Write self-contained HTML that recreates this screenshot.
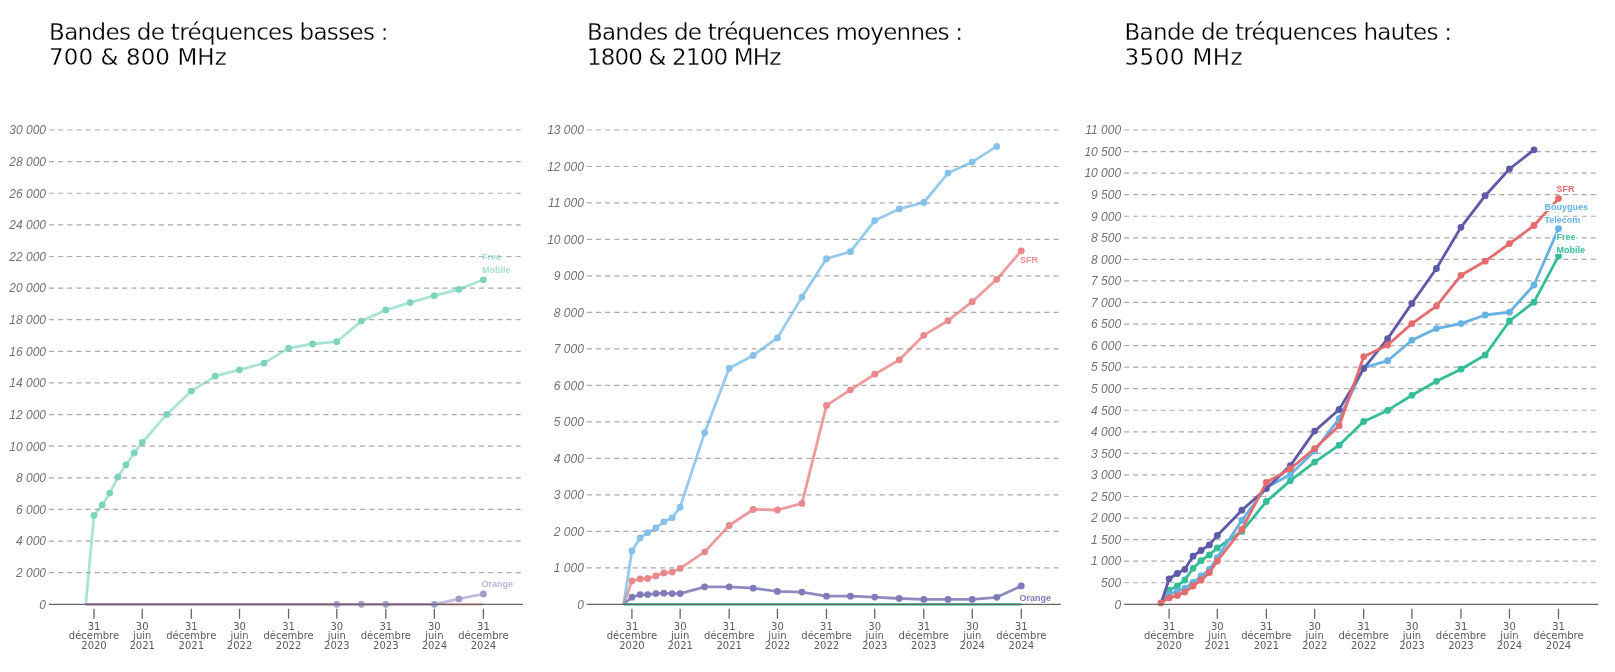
<!DOCTYPE html>
<html lang="fr"><head><meta charset="utf-8"><title>Déploiement 5G par bande de fréquences</title>
<style>
html,body{margin:0;padding:0;background:#fff;}
body{width:1615px;height:672px;overflow:hidden;}
svg{display:block;will-change:transform;}
.t{font-family:"DejaVu Sans","Liberation Sans",sans-serif;font-size:23px;fill:#000;stroke:#fff;stroke-width:0.28px;}
.yl{font-family:"Liberation Sans",sans-serif;font-style:italic;font-size:12px;fill:#727272;text-anchor:end;}
.xl{font-family:"DejaVu Sans","Liberation Sans",sans-serif;font-size:10px;fill:#5a5a5a;text-anchor:middle;}
.sl{font-family:"Liberation Sans",sans-serif;font-weight:bold;font-size:9px;stroke:#fff;stroke-width:2px;paint-order:stroke;stroke-linejoin:round;}
.g{stroke:#aaa;stroke-width:1.2;stroke-dasharray:5 4.15;}
.ax{stroke:#666;stroke-width:1.3;}
.tk{stroke:#666;stroke-width:1.3;}
</style></head>
<body>
<svg width="1615" height="672" viewBox="0 0 1615 672">
<text class="t" x="49.1" y="40.1" textLength="339.5" lengthAdjust="spacing">Bandes de tréquences basses :</text><text class="t" x="49.1" y="64.6" textLength="177.7" lengthAdjust="spacing">700 &amp; 800 MHz</text>
<text class="t" x="586.9" y="40.1" textLength="376.2" lengthAdjust="spacing">Bandes de tréquences moyennes :</text><text class="t" x="586.9" y="64.6" textLength="194.4" lengthAdjust="spacing">1800 &amp; 2100 MHz</text>
<text class="t" x="1124.5" y="40.1" textLength="327.6" lengthAdjust="spacing">Bande de tréquences hautes :</text><text class="t" x="1124.5" y="64.6" textLength="118.1" lengthAdjust="spacing">3500 MHz</text>
<line x1="49" x2="521" y1="130" y2="130" class="g"/>
<text x="46" y="134.3" class="yl">30 000</text>
<line x1="49" x2="521" y1="161.62" y2="161.62" class="g"/>
<text x="46" y="165.92" class="yl">28 000</text>
<line x1="49" x2="521" y1="193.24" y2="193.24" class="g"/>
<text x="46" y="197.54" class="yl">26 000</text>
<line x1="49" x2="521" y1="224.86" y2="224.86" class="g"/>
<text x="46" y="229.16" class="yl">24 000</text>
<line x1="49" x2="521" y1="256.48" y2="256.48" class="g"/>
<text x="46" y="260.78" class="yl">22 000</text>
<line x1="49" x2="521" y1="288.1" y2="288.1" class="g"/>
<text x="46" y="292.4" class="yl">20 000</text>
<line x1="49" x2="521" y1="319.72" y2="319.72" class="g"/>
<text x="46" y="324.02" class="yl">18 000</text>
<line x1="49" x2="521" y1="351.34" y2="351.34" class="g"/>
<text x="46" y="355.64" class="yl">16 000</text>
<line x1="49" x2="521" y1="382.96" y2="382.96" class="g"/>
<text x="46" y="387.26" class="yl">14 000</text>
<line x1="49" x2="521" y1="414.58" y2="414.58" class="g"/>
<text x="46" y="418.88" class="yl">12 000</text>
<line x1="49" x2="521" y1="446.2" y2="446.2" class="g"/>
<text x="46" y="450.5" class="yl">10 000</text>
<line x1="49" x2="521" y1="477.82" y2="477.82" class="g"/>
<text x="46" y="482.12" class="yl">8 000</text>
<line x1="49" x2="521" y1="509.44" y2="509.44" class="g"/>
<text x="46" y="513.74" class="yl">6 000</text>
<line x1="49" x2="521" y1="541.06" y2="541.06" class="g"/>
<text x="46" y="545.36" class="yl">4 000</text>
<line x1="49" x2="521" y1="572.68" y2="572.68" class="g"/>
<text x="46" y="576.98" class="yl">2 000</text>
<text x="46" y="608.6" class="yl">0</text>
<line x1="586.9" x2="1058.9" y1="130" y2="130" class="g"/>
<text x="583.9" y="134.3" class="yl">13 000</text>
<line x1="586.9" x2="1058.9" y1="166.48" y2="166.48" class="g"/>
<text x="583.9" y="170.78" class="yl">12 000</text>
<line x1="586.9" x2="1058.9" y1="202.97" y2="202.97" class="g"/>
<text x="583.9" y="207.27" class="yl">11 000</text>
<line x1="586.9" x2="1058.9" y1="239.45" y2="239.45" class="g"/>
<text x="583.9" y="243.75" class="yl">10 000</text>
<line x1="586.9" x2="1058.9" y1="275.94" y2="275.94" class="g"/>
<text x="583.9" y="280.24" class="yl">9 000</text>
<line x1="586.9" x2="1058.9" y1="312.42" y2="312.42" class="g"/>
<text x="583.9" y="316.72" class="yl">8 000</text>
<line x1="586.9" x2="1058.9" y1="348.91" y2="348.91" class="g"/>
<text x="583.9" y="353.21" class="yl">7 000</text>
<line x1="586.9" x2="1058.9" y1="385.39" y2="385.39" class="g"/>
<text x="583.9" y="389.69" class="yl">6 000</text>
<line x1="586.9" x2="1058.9" y1="421.88" y2="421.88" class="g"/>
<text x="583.9" y="426.18" class="yl">5 000</text>
<line x1="586.9" x2="1058.9" y1="458.36" y2="458.36" class="g"/>
<text x="583.9" y="462.66" class="yl">4 000</text>
<line x1="586.9" x2="1058.9" y1="494.85" y2="494.85" class="g"/>
<text x="583.9" y="499.15" class="yl">3 000</text>
<line x1="586.9" x2="1058.9" y1="531.33" y2="531.33" class="g"/>
<text x="583.9" y="535.63" class="yl">2 000</text>
<line x1="586.9" x2="1058.9" y1="567.82" y2="567.82" class="g"/>
<text x="583.9" y="572.12" class="yl">1 000</text>
<text x="583.9" y="608.6" class="yl">0</text>
<line x1="1124.1" x2="1596.1" y1="130" y2="130" class="g"/>
<text x="1121.1" y="134.3" class="yl">11 000</text>
<line x1="1124.1" x2="1596.1" y1="151.56" y2="151.56" class="g"/>
<text x="1121.1" y="155.86" class="yl">10 500</text>
<line x1="1124.1" x2="1596.1" y1="173.12" y2="173.12" class="g"/>
<text x="1121.1" y="177.42" class="yl">10 000</text>
<line x1="1124.1" x2="1596.1" y1="194.68" y2="194.68" class="g"/>
<text x="1121.1" y="198.98" class="yl">9 500</text>
<line x1="1124.1" x2="1596.1" y1="216.24" y2="216.24" class="g"/>
<text x="1121.1" y="220.54" class="yl">9 000</text>
<line x1="1124.1" x2="1596.1" y1="237.8" y2="237.8" class="g"/>
<text x="1121.1" y="242.1" class="yl">8 500</text>
<line x1="1124.1" x2="1596.1" y1="259.35" y2="259.35" class="g"/>
<text x="1121.1" y="263.65" class="yl">8 000</text>
<line x1="1124.1" x2="1596.1" y1="280.91" y2="280.91" class="g"/>
<text x="1121.1" y="285.21" class="yl">7 500</text>
<line x1="1124.1" x2="1596.1" y1="302.47" y2="302.47" class="g"/>
<text x="1121.1" y="306.77" class="yl">7 000</text>
<line x1="1124.1" x2="1596.1" y1="324.03" y2="324.03" class="g"/>
<text x="1121.1" y="328.33" class="yl">6 500</text>
<line x1="1124.1" x2="1596.1" y1="345.59" y2="345.59" class="g"/>
<text x="1121.1" y="349.89" class="yl">6 000</text>
<line x1="1124.1" x2="1596.1" y1="367.15" y2="367.15" class="g"/>
<text x="1121.1" y="371.45" class="yl">5 500</text>
<line x1="1124.1" x2="1596.1" y1="388.71" y2="388.71" class="g"/>
<text x="1121.1" y="393.01" class="yl">5 000</text>
<line x1="1124.1" x2="1596.1" y1="410.27" y2="410.27" class="g"/>
<text x="1121.1" y="414.57" class="yl">4 500</text>
<line x1="1124.1" x2="1596.1" y1="431.83" y2="431.83" class="g"/>
<text x="1121.1" y="436.13" class="yl">4 000</text>
<line x1="1124.1" x2="1596.1" y1="453.39" y2="453.39" class="g"/>
<text x="1121.1" y="457.69" class="yl">3 500</text>
<line x1="1124.1" x2="1596.1" y1="474.95" y2="474.95" class="g"/>
<text x="1121.1" y="479.25" class="yl">3 000</text>
<line x1="1124.1" x2="1596.1" y1="496.5" y2="496.5" class="g"/>
<text x="1121.1" y="500.8" class="yl">2 500</text>
<line x1="1124.1" x2="1596.1" y1="518.06" y2="518.06" class="g"/>
<text x="1121.1" y="522.36" class="yl">2 000</text>
<line x1="1124.1" x2="1596.1" y1="539.62" y2="539.62" class="g"/>
<text x="1121.1" y="543.92" class="yl">1 500</text>
<line x1="1124.1" x2="1596.1" y1="561.18" y2="561.18" class="g"/>
<text x="1121.1" y="565.48" class="yl">1 000</text>
<line x1="1124.1" x2="1596.1" y1="582.74" y2="582.74" class="g"/>
<text x="1121.1" y="587.04" class="yl">500</text>
<text x="1121.1" y="608.6" class="yl">0</text>
<path d="M85.74,604.3 L94,515.5 L102.26,505 L109.73,493.1 L117.99,477 L125.98,464.8 L134.25,452.9 L142.24,442.5 L166.76,414.4 L191.28,391.1 L215.27,376.2 L239.53,369.8 L264.05,363.1 L288.57,348.1 L312.55,344 L336.81,341.7 L361.33,321.1 L385.85,310 L410.1,302.6 L434.36,295.7 L458.88,289.3 L483.4,279.8" fill="none" stroke="#36bd98" stroke-width="2.8" stroke-linejoin="round" stroke-linecap="butt" opacity="0.42"/>
<g fill="#7cd4bc"><circle cx="94" cy="515.5" r="3.4"/><circle cx="102.26" cy="505" r="3.4"/><circle cx="109.73" cy="493.1" r="3.4"/><circle cx="117.99" cy="477" r="3.4"/><circle cx="125.98" cy="464.8" r="3.4"/><circle cx="134.25" cy="452.9" r="3.4"/><circle cx="142.24" cy="442.5" r="3.4"/><circle cx="166.76" cy="414.4" r="3.4"/><circle cx="191.28" cy="391.1" r="3.4"/><circle cx="215.27" cy="376.2" r="3.4"/><circle cx="239.53" cy="369.8" r="3.4"/><circle cx="264.05" cy="363.1" r="3.4"/><circle cx="288.57" cy="348.1" r="3.4"/><circle cx="312.55" cy="344" r="3.4"/><circle cx="336.81" cy="341.7" r="3.4"/><circle cx="361.33" cy="321.1" r="3.4"/><circle cx="385.85" cy="310" r="3.4"/><circle cx="410.1" cy="302.6" r="3.4"/><circle cx="434.36" cy="295.7" r="3.4"/><circle cx="458.88" cy="289.3" r="3.4"/><circle cx="483.4" cy="279.8" r="3.4"/></g>
<path d="M85.74,604.3 L94,604.3 L102.26,604.3 L109.73,604.3 L117.99,604.3 L125.98,604.3 L134.25,604.3 L142.24,604.3 L166.76,604.3 L191.28,604.3 L215.27,604.3 L239.53,604.3 L264.05,604.3 L288.57,604.3 L312.55,604.3 L336.81,604.3 L361.33,604.3 L385.85,604.3 L410.1,604.3 L434.36,604.3 L458.88,604.3 L483.4,604.3" fill="none" stroke="#e46c6e" stroke-width="2.8" stroke-linejoin="round" stroke-linecap="butt" opacity="0.4"/>
<path d="M85.74,604.3 L94,604.3 L102.26,604.3 L109.73,604.3 L117.99,604.3 L125.98,604.3 L134.25,604.3 L142.24,604.3 L166.76,604.3 L191.28,604.3 L215.27,604.3 L239.53,604.3 L264.05,604.3 L288.57,604.3 L312.55,604.3 L336.81,604.3 L361.33,604.3 L385.85,604.3 L410.1,604.3 L434.36,604.3 L458.88,598.9 L483.4,594" fill="none" stroke="#5f5aa7" stroke-width="2.8" stroke-linejoin="round" stroke-linecap="butt" opacity="0.4"/>
<g fill="#9f9cca"><circle cx="336.81" cy="604.3" r="3.4"/><circle cx="361.33" cy="604.3" r="3.4"/><circle cx="385.85" cy="604.3" r="3.4"/><circle cx="434.36" cy="604.3" r="3.4"/><circle cx="458.88" cy="598.9" r="3.4"/><circle cx="483.4" cy="594" r="3.4"/></g>
<path d="M623.64,604.3 L631.9,604.3 L640.16,604.3 L647.63,604.3 L655.89,604.3 L663.88,604.3 L672.15,604.3 L680.14,604.3 L704.66,604.3 L729.18,604.3 L753.17,604.3 L777.43,604.3 L801.95,604.3 L826.47,604.3 L850.45,604.3 L874.71,604.3 L899.23,604.3 L923.75,604.3 L948,604.3 L972.26,604.3 L996.78,604.3 L1021.3,604.3" fill="none" stroke="#36bd98" stroke-width="2.8" stroke-linejoin="round" stroke-linecap="butt" opacity="0.8"/>
<path d="M623.64,604.3 L631.9,597.2 L640.16,594.6 L647.63,594.6 L655.89,593.6 L663.88,593.2 L672.15,593.6 L680.14,593.6 L704.66,586.8 L729.18,586.8 L753.17,588.2 L777.43,591.4 L801.95,592.1 L826.47,596.2 L850.45,596.2 L874.71,597.1 L899.23,598.5 L923.75,599.4 L948,599.4 L972.26,599.4 L996.78,597.3 L1021.3,585.9" fill="none" stroke="#5f5aa7" stroke-width="2.8" stroke-linejoin="round" stroke-linecap="butt" opacity="0.7"/>
<g fill="#7f7bb9"><circle cx="631.9" cy="597.2" r="3.4"/><circle cx="640.16" cy="594.6" r="3.4"/><circle cx="647.63" cy="594.6" r="3.4"/><circle cx="655.89" cy="593.6" r="3.4"/><circle cx="663.88" cy="593.2" r="3.4"/><circle cx="672.15" cy="593.6" r="3.4"/><circle cx="680.14" cy="593.6" r="3.4"/><circle cx="704.66" cy="586.8" r="3.4"/><circle cx="729.18" cy="586.8" r="3.4"/><circle cx="753.17" cy="588.2" r="3.4"/><circle cx="777.43" cy="591.4" r="3.4"/><circle cx="801.95" cy="592.1" r="3.4"/><circle cx="826.47" cy="596.2" r="3.4"/><circle cx="850.45" cy="596.2" r="3.4"/><circle cx="874.71" cy="597.1" r="3.4"/><circle cx="899.23" cy="598.5" r="3.4"/><circle cx="923.75" cy="599.4" r="3.4"/><circle cx="948" cy="599.4" r="3.4"/><circle cx="972.26" cy="599.4" r="3.4"/><circle cx="996.78" cy="597.3" r="3.4"/><circle cx="1021.3" cy="585.9" r="3.4"/></g>
<path d="M623.64,604.3 L631.9,580.9 L640.16,578.9 L647.63,578.5 L655.89,575.9 L663.88,572.9 L672.15,572.1 L680.14,568.4 L704.66,551.9 L729.18,525.5 L753.17,509.5 L777.43,510 L801.95,503.4 L826.47,405.4 L850.45,389.8 L874.71,374.2 L899.23,359.9 L923.75,335.3 L948,320.7 L972.26,301.7 L996.78,279.3 L1021.3,250.8" fill="none" stroke="#e46c6e" stroke-width="2.8" stroke-linejoin="round" stroke-linecap="butt" opacity="0.68"/>
<g fill="#e9898b"><circle cx="631.9" cy="580.9" r="3.4"/><circle cx="640.16" cy="578.9" r="3.4"/><circle cx="647.63" cy="578.5" r="3.4"/><circle cx="655.89" cy="575.9" r="3.4"/><circle cx="663.88" cy="572.9" r="3.4"/><circle cx="672.15" cy="572.1" r="3.4"/><circle cx="680.14" cy="568.4" r="3.4"/><circle cx="704.66" cy="551.9" r="3.4"/><circle cx="729.18" cy="525.5" r="3.4"/><circle cx="753.17" cy="509.5" r="3.4"/><circle cx="777.43" cy="510" r="3.4"/><circle cx="801.95" cy="503.4" r="3.4"/><circle cx="826.47" cy="405.4" r="3.4"/><circle cx="850.45" cy="389.8" r="3.4"/><circle cx="874.71" cy="374.2" r="3.4"/><circle cx="899.23" cy="359.9" r="3.4"/><circle cx="923.75" cy="335.3" r="3.4"/><circle cx="948" cy="320.7" r="3.4"/><circle cx="972.26" cy="301.7" r="3.4"/><circle cx="996.78" cy="279.3" r="3.4"/><circle cx="1021.3" cy="250.8" r="3.4"/></g>
<path d="M623.64,604.3 L631.9,551 L640.16,537.9 L647.63,532.7 L655.89,528 L663.88,521.8 L672.15,517.8 L680.14,507.1 L704.66,432.7 L729.18,368.3 L753.17,355.4 L777.43,337.9 L801.95,297.1 L826.47,258.75 L850.45,251.7 L874.71,220.6 L899.23,208.9 L923.75,202.5 L948,173.1 L972.26,161.9 L996.78,146.4" fill="none" stroke="#66b2e2" stroke-width="2.8" stroke-linejoin="round" stroke-linecap="butt" opacity="0.68"/>
<g fill="#85c1e8"><circle cx="631.9" cy="551" r="3.4"/><circle cx="640.16" cy="537.9" r="3.4"/><circle cx="647.63" cy="532.7" r="3.4"/><circle cx="655.89" cy="528" r="3.4"/><circle cx="663.88" cy="521.8" r="3.4"/><circle cx="672.15" cy="517.8" r="3.4"/><circle cx="680.14" cy="507.1" r="3.4"/><circle cx="704.66" cy="432.7" r="3.4"/><circle cx="729.18" cy="368.3" r="3.4"/><circle cx="753.17" cy="355.4" r="3.4"/><circle cx="777.43" cy="337.9" r="3.4"/><circle cx="801.95" cy="297.1" r="3.4"/><circle cx="826.47" cy="258.75" r="3.4"/><circle cx="850.45" cy="251.7" r="3.4"/><circle cx="874.71" cy="220.6" r="3.4"/><circle cx="899.23" cy="208.9" r="3.4"/><circle cx="923.75" cy="202.5" r="3.4"/><circle cx="948" cy="173.1" r="3.4"/><circle cx="972.26" cy="161.9" r="3.4"/><circle cx="996.78" cy="146.4" r="3.4"/></g>
<path d="M1160.84,604.3 L1169.1,590.1 L1177.36,586 L1184.83,580 L1193.09,568.3 L1201.08,560.7 L1209.35,555 L1217.34,548 L1241.86,531.4 L1266.38,501.5 L1290.37,480.6 L1314.63,462.1 L1339.15,445.2 L1363.67,421.4 L1387.65,410.4 L1411.91,395.3 L1436.43,381.3 L1460.95,369.2 L1485.2,355 L1509.46,321 L1533.98,302.2 L1558.5,256.1" fill="none" stroke="#36bd98" stroke-width="2.8" stroke-linejoin="round" stroke-linecap="butt" opacity="1"/>
<g fill="#36bd98"><circle cx="1169.1" cy="590.1" r="3.4"/><circle cx="1177.36" cy="586" r="3.4"/><circle cx="1184.83" cy="580" r="3.4"/><circle cx="1193.09" cy="568.3" r="3.4"/><circle cx="1201.08" cy="560.7" r="3.4"/><circle cx="1209.35" cy="555" r="3.4"/><circle cx="1217.34" cy="548" r="3.4"/><circle cx="1241.86" cy="531.4" r="3.4"/><circle cx="1266.38" cy="501.5" r="3.4"/><circle cx="1290.37" cy="480.6" r="3.4"/><circle cx="1314.63" cy="462.1" r="3.4"/><circle cx="1339.15" cy="445.2" r="3.4"/><circle cx="1363.67" cy="421.4" r="3.4"/><circle cx="1387.65" cy="410.4" r="3.4"/><circle cx="1411.91" cy="395.3" r="3.4"/><circle cx="1436.43" cy="381.3" r="3.4"/><circle cx="1460.95" cy="369.2" r="3.4"/><circle cx="1485.2" cy="355" r="3.4"/><circle cx="1509.46" cy="321" r="3.4"/><circle cx="1533.98" cy="302.2" r="3.4"/><circle cx="1558.5" cy="256.1" r="3.4"/></g>
<path d="M1160.84,604.3 L1169.1,594.5 L1177.36,591 L1184.83,588.4 L1193.09,582.5 L1201.08,576 L1209.35,569.5 L1217.34,557.6 L1241.86,520.3 L1266.38,487.5 L1290.37,474.6 L1314.63,450.9 L1339.15,418.6 L1363.67,367.9 L1387.65,360.7 L1411.91,340.2 L1436.43,328.6 L1460.95,323.6 L1485.2,315 L1509.46,312.2 L1533.98,285 L1558.5,228.6" fill="none" stroke="#66b2e2" stroke-width="2.8" stroke-linejoin="round" stroke-linecap="butt" opacity="1"/>
<g fill="#66b2e2"><circle cx="1169.1" cy="594.5" r="3.4"/><circle cx="1177.36" cy="591" r="3.4"/><circle cx="1184.83" cy="588.4" r="3.4"/><circle cx="1193.09" cy="582.5" r="3.4"/><circle cx="1201.08" cy="576" r="3.4"/><circle cx="1209.35" cy="569.5" r="3.4"/><circle cx="1217.34" cy="557.6" r="3.4"/><circle cx="1241.86" cy="520.3" r="3.4"/><circle cx="1266.38" cy="487.5" r="3.4"/><circle cx="1290.37" cy="474.6" r="3.4"/><circle cx="1314.63" cy="450.9" r="3.4"/><circle cx="1339.15" cy="418.6" r="3.4"/><circle cx="1363.67" cy="367.9" r="3.4"/><circle cx="1387.65" cy="360.7" r="3.4"/><circle cx="1411.91" cy="340.2" r="3.4"/><circle cx="1436.43" cy="328.6" r="3.4"/><circle cx="1460.95" cy="323.6" r="3.4"/><circle cx="1485.2" cy="315" r="3.4"/><circle cx="1509.46" cy="312.2" r="3.4"/><circle cx="1533.98" cy="285" r="3.4"/><circle cx="1558.5" cy="228.6" r="3.4"/></g>
<path d="M1160.84,604.3 L1169.1,578.8 L1177.36,573.5 L1184.83,569.3 L1193.09,556.2 L1201.08,550.5 L1209.35,544.9 L1217.34,535.4 L1241.86,510.2 L1266.38,488.5 L1290.37,465.6 L1314.63,431.1 L1339.15,409.5 L1363.67,368.6 L1387.65,338.6 L1411.91,303.4 L1436.43,268.5 L1460.95,227.3 L1485.2,195.7 L1509.46,169 L1533.98,149.8" fill="none" stroke="#5f5aa7" stroke-width="2.8" stroke-linejoin="round" stroke-linecap="butt" opacity="1"/>
<g fill="#5f5aa7"><circle cx="1169.1" cy="578.8" r="3.4"/><circle cx="1177.36" cy="573.5" r="3.4"/><circle cx="1184.83" cy="569.3" r="3.4"/><circle cx="1193.09" cy="556.2" r="3.4"/><circle cx="1201.08" cy="550.5" r="3.4"/><circle cx="1209.35" cy="544.9" r="3.4"/><circle cx="1217.34" cy="535.4" r="3.4"/><circle cx="1241.86" cy="510.2" r="3.4"/><circle cx="1266.38" cy="488.5" r="3.4"/><circle cx="1290.37" cy="465.6" r="3.4"/><circle cx="1314.63" cy="431.1" r="3.4"/><circle cx="1339.15" cy="409.5" r="3.4"/><circle cx="1363.67" cy="368.6" r="3.4"/><circle cx="1387.65" cy="338.6" r="3.4"/><circle cx="1411.91" cy="303.4" r="3.4"/><circle cx="1436.43" cy="268.5" r="3.4"/><circle cx="1460.95" cy="227.3" r="3.4"/><circle cx="1485.2" cy="195.7" r="3.4"/><circle cx="1509.46" cy="169" r="3.4"/><circle cx="1533.98" cy="149.8" r="3.4"/></g>
<path d="M1160.84,602.9 L1169.1,597.9 L1177.36,595.6 L1184.83,592.1 L1193.09,586 L1201.08,580 L1209.35,572.6 L1217.34,561 L1241.86,529.4 L1266.38,482.3 L1290.37,468.75 L1314.63,448.6 L1339.15,425.7 L1363.67,356.7 L1387.65,345 L1411.91,323.6 L1436.43,306.1 L1460.95,275.3 L1485.2,261.2 L1509.46,243.6 L1533.98,225.5 L1558.5,198.6" fill="none" stroke="#e46c6e" stroke-width="2.8" stroke-linejoin="round" stroke-linecap="butt" opacity="1"/>
<g fill="#e46c6e"><circle cx="1160.84" cy="602.9" r="3.4"/><circle cx="1169.1" cy="597.9" r="3.4"/><circle cx="1177.36" cy="595.6" r="3.4"/><circle cx="1184.83" cy="592.1" r="3.4"/><circle cx="1193.09" cy="586" r="3.4"/><circle cx="1201.08" cy="580" r="3.4"/><circle cx="1209.35" cy="572.6" r="3.4"/><circle cx="1217.34" cy="561" r="3.4"/><circle cx="1241.86" cy="529.4" r="3.4"/><circle cx="1266.38" cy="482.3" r="3.4"/><circle cx="1290.37" cy="468.75" r="3.4"/><circle cx="1314.63" cy="448.6" r="3.4"/><circle cx="1339.15" cy="425.7" r="3.4"/><circle cx="1363.67" cy="356.7" r="3.4"/><circle cx="1387.65" cy="345" r="3.4"/><circle cx="1411.91" cy="323.6" r="3.4"/><circle cx="1436.43" cy="306.1" r="3.4"/><circle cx="1460.95" cy="275.3" r="3.4"/><circle cx="1485.2" cy="261.2" r="3.4"/><circle cx="1509.46" cy="243.6" r="3.4"/><circle cx="1533.98" cy="225.5" r="3.4"/><circle cx="1558.5" cy="198.6" r="3.4"/></g>
<line x1="49" x2="523" y1="604.3" y2="604.3" class="ax"/>
<line x1="94" x2="94" y1="608.8" y2="618.8" class="tk"/>
<text x="94" class="xl"><tspan x="94" y="629.6">31</tspan><tspan x="94" y="639.1">décembre</tspan><tspan x="94" y="648.7">2020</tspan></text>
<line x1="142.24" x2="142.24" y1="608.8" y2="618.8" class="tk"/>
<text x="142.24" class="xl"><tspan x="142.24" y="629.6">30</tspan><tspan x="142.24" y="639.1">juin</tspan><tspan x="142.24" y="648.7">2021</tspan></text>
<line x1="191.28" x2="191.28" y1="608.8" y2="618.8" class="tk"/>
<text x="191.28" class="xl"><tspan x="191.28" y="629.6">31</tspan><tspan x="191.28" y="639.1">décembre</tspan><tspan x="191.28" y="648.7">2021</tspan></text>
<line x1="239.53" x2="239.53" y1="608.8" y2="618.8" class="tk"/>
<text x="239.53" class="xl"><tspan x="239.53" y="629.6">30</tspan><tspan x="239.53" y="639.1">juin</tspan><tspan x="239.53" y="648.7">2022</tspan></text>
<line x1="288.57" x2="288.57" y1="608.8" y2="618.8" class="tk"/>
<text x="288.57" class="xl"><tspan x="288.57" y="629.6">31</tspan><tspan x="288.57" y="639.1">décembre</tspan><tspan x="288.57" y="648.7">2022</tspan></text>
<line x1="336.81" x2="336.81" y1="608.8" y2="618.8" class="tk"/>
<text x="336.81" class="xl"><tspan x="336.81" y="629.6">30</tspan><tspan x="336.81" y="639.1">juin</tspan><tspan x="336.81" y="648.7">2023</tspan></text>
<line x1="385.85" x2="385.85" y1="608.8" y2="618.8" class="tk"/>
<text x="385.85" class="xl"><tspan x="385.85" y="629.6">31</tspan><tspan x="385.85" y="639.1">décembre</tspan><tspan x="385.85" y="648.7">2023</tspan></text>
<line x1="434.36" x2="434.36" y1="608.8" y2="618.8" class="tk"/>
<text x="434.36" class="xl"><tspan x="434.36" y="629.6">30</tspan><tspan x="434.36" y="639.1">juin</tspan><tspan x="434.36" y="648.7">2024</tspan></text>
<line x1="483.4" x2="483.4" y1="608.8" y2="618.8" class="tk"/>
<text x="483.4" class="xl"><tspan x="483.4" y="629.6">31</tspan><tspan x="483.4" y="639.1">décembre</tspan><tspan x="483.4" y="648.7">2024</tspan></text>
<line x1="586.9" x2="1060.9" y1="604.3" y2="604.3" class="ax"/>
<line x1="631.9" x2="631.9" y1="608.8" y2="618.8" class="tk"/>
<text x="631.9" class="xl"><tspan x="631.9" y="629.6">31</tspan><tspan x="631.9" y="639.1">décembre</tspan><tspan x="631.9" y="648.7">2020</tspan></text>
<line x1="680.14" x2="680.14" y1="608.8" y2="618.8" class="tk"/>
<text x="680.14" class="xl"><tspan x="680.14" y="629.6">30</tspan><tspan x="680.14" y="639.1">juin</tspan><tspan x="680.14" y="648.7">2021</tspan></text>
<line x1="729.18" x2="729.18" y1="608.8" y2="618.8" class="tk"/>
<text x="729.18" class="xl"><tspan x="729.18" y="629.6">31</tspan><tspan x="729.18" y="639.1">décembre</tspan><tspan x="729.18" y="648.7">2021</tspan></text>
<line x1="777.43" x2="777.43" y1="608.8" y2="618.8" class="tk"/>
<text x="777.43" class="xl"><tspan x="777.43" y="629.6">30</tspan><tspan x="777.43" y="639.1">juin</tspan><tspan x="777.43" y="648.7">2022</tspan></text>
<line x1="826.47" x2="826.47" y1="608.8" y2="618.8" class="tk"/>
<text x="826.47" class="xl"><tspan x="826.47" y="629.6">31</tspan><tspan x="826.47" y="639.1">décembre</tspan><tspan x="826.47" y="648.7">2022</tspan></text>
<line x1="874.71" x2="874.71" y1="608.8" y2="618.8" class="tk"/>
<text x="874.71" class="xl"><tspan x="874.71" y="629.6">30</tspan><tspan x="874.71" y="639.1">juin</tspan><tspan x="874.71" y="648.7">2023</tspan></text>
<line x1="923.75" x2="923.75" y1="608.8" y2="618.8" class="tk"/>
<text x="923.75" class="xl"><tspan x="923.75" y="629.6">31</tspan><tspan x="923.75" y="639.1">décembre</tspan><tspan x="923.75" y="648.7">2023</tspan></text>
<line x1="972.26" x2="972.26" y1="608.8" y2="618.8" class="tk"/>
<text x="972.26" class="xl"><tspan x="972.26" y="629.6">30</tspan><tspan x="972.26" y="639.1">juin</tspan><tspan x="972.26" y="648.7">2024</tspan></text>
<line x1="1021.3" x2="1021.3" y1="608.8" y2="618.8" class="tk"/>
<text x="1021.3" class="xl"><tspan x="1021.3" y="629.6">31</tspan><tspan x="1021.3" y="639.1">décembre</tspan><tspan x="1021.3" y="648.7">2024</tspan></text>
<line x1="1124.1" x2="1598.1" y1="604.3" y2="604.3" class="ax"/>
<line x1="1169.1" x2="1169.1" y1="608.8" y2="618.8" class="tk"/>
<text x="1169.1" class="xl"><tspan x="1169.1" y="629.6">31</tspan><tspan x="1169.1" y="639.1">décembre</tspan><tspan x="1169.1" y="648.7">2020</tspan></text>
<line x1="1217.34" x2="1217.34" y1="608.8" y2="618.8" class="tk"/>
<text x="1217.34" class="xl"><tspan x="1217.34" y="629.6">30</tspan><tspan x="1217.34" y="639.1">juin</tspan><tspan x="1217.34" y="648.7">2021</tspan></text>
<line x1="1266.38" x2="1266.38" y1="608.8" y2="618.8" class="tk"/>
<text x="1266.38" class="xl"><tspan x="1266.38" y="629.6">31</tspan><tspan x="1266.38" y="639.1">décembre</tspan><tspan x="1266.38" y="648.7">2021</tspan></text>
<line x1="1314.63" x2="1314.63" y1="608.8" y2="618.8" class="tk"/>
<text x="1314.63" class="xl"><tspan x="1314.63" y="629.6">30</tspan><tspan x="1314.63" y="639.1">juin</tspan><tspan x="1314.63" y="648.7">2022</tspan></text>
<line x1="1363.67" x2="1363.67" y1="608.8" y2="618.8" class="tk"/>
<text x="1363.67" class="xl"><tspan x="1363.67" y="629.6">31</tspan><tspan x="1363.67" y="639.1">décembre</tspan><tspan x="1363.67" y="648.7">2022</tspan></text>
<line x1="1411.91" x2="1411.91" y1="608.8" y2="618.8" class="tk"/>
<text x="1411.91" class="xl"><tspan x="1411.91" y="629.6">30</tspan><tspan x="1411.91" y="639.1">juin</tspan><tspan x="1411.91" y="648.7">2023</tspan></text>
<line x1="1460.95" x2="1460.95" y1="608.8" y2="618.8" class="tk"/>
<text x="1460.95" class="xl"><tspan x="1460.95" y="629.6">31</tspan><tspan x="1460.95" y="639.1">décembre</tspan><tspan x="1460.95" y="648.7">2023</tspan></text>
<line x1="1509.46" x2="1509.46" y1="608.8" y2="618.8" class="tk"/>
<text x="1509.46" class="xl"><tspan x="1509.46" y="629.6">30</tspan><tspan x="1509.46" y="639.1">juin</tspan><tspan x="1509.46" y="648.7">2024</tspan></text>
<line x1="1558.5" x2="1558.5" y1="608.8" y2="618.8" class="tk"/>
<text x="1558.5" class="xl"><tspan x="1558.5" y="629.6">31</tspan><tspan x="1558.5" y="639.1">décembre</tspan><tspan x="1558.5" y="648.7">2024</tspan></text>
<text class="sl" x="481.9" y="259.5" fill="#36bd98" opacity="0.45">Free</text>
<text class="sl" x="481.9" y="272.9" fill="#36bd98" opacity="0.45">Mobile</text>
<text class="sl" x="481.6" y="587.0" fill="#5f5aa7" opacity="0.45">Orange</text>
<text class="sl" x="1019.9" y="263.0" fill="#e46c6e" opacity="0.75">SFR</text>
<text class="sl" x="1019.6" y="601.0" fill="#5f5aa7" opacity="0.8">Orange</text>
<text class="sl" x="1556.6" y="191.8" fill="#e46c6e" opacity="1">SFR</text>
<text class="sl" x="1544.5" y="210.4" fill="#66b2e2" opacity="1">Bouygues</text>
<text class="sl" x="1544.5" y="223.2" fill="#66b2e2" opacity="1">Telecom</text>
<text class="sl" x="1556.6" y="239.6" fill="#36bd98" opacity="1">Free</text>
<text class="sl" x="1556.6" y="252.7" fill="#36bd98" opacity="1">Mobile</text>
</svg>
</body></html>
